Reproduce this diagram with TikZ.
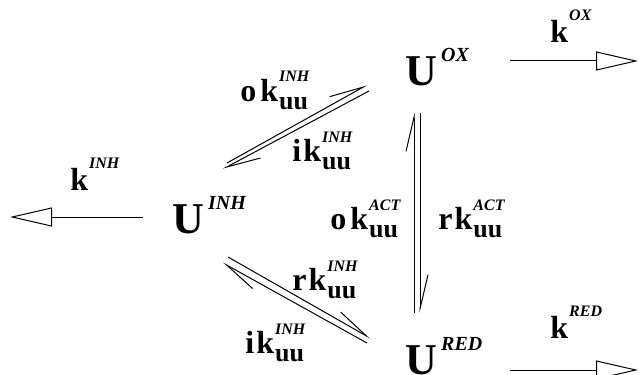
\documentclass[tikz,border=0pt]{standalone}
\usepackage{fontspec}
\setmainfont{Liberation Serif}
\usepackage{tikz}
\usetikzlibrary{arrows.meta}

\newcommand{\sps}[1]{{\fontsize{8}{8}\selectfont\bfseries\itshape #1}}
\newcommand{\kx}[1]{\textbf{k}\kern0.5pt\raisebox{11pt}{\sps{#1}}}
\newcommand{\kuu}[1]{\textbf{k}\kern0.5pt\rlap{\raisebox{9.5pt}{\sps{#1}}}\raisebox{-4pt}{\fontsize{13}{13}\selectfont\bfseries uu}}
\newcommand{\spc}[1]{\textbf{U}\kern2pt\raisebox{12pt}{\fontsize{10}{10}\selectfont\bfseries\itshape #1}}

\begin{document}
\begin{tikzpicture}[
    x=0.5pt, y=-0.5pt,
    species/.style={anchor=base west, inner sep=0pt, font=\fontsize{22}{22}\selectfont\bfseries},
    rate/.style={anchor=base west, inner sep=0pt, font=\fontsize{16}{16}\selectfont\bfseries},
    flow/.style={-{Triangle[open,length=21pt,width=9.5pt]}, line width=0.5pt},
    harp/.style={-{Straight Barb[harpoon,length=17pt,width=8pt]}, line width=0.5pt}
]
\useasboundingbox (0,0) rectangle (640,374);

\node[species] (inh) at (172,233) {\spc{INH}};
\node[species] (ox) at (405,85) {\spc{OX}};
\node[species] (red) at (405,374) {\spc{RED}};

\node[rate] (okI) at (240,101) {o\kern2pt\kuu{INH}};
\node[rate] (ikI) at (292,161) {i\kern1pt\kuu{INH}};
\node[rate] (okA) at (330,229) {o\kern2pt\kuu{ACT}};
\node[rate] (rkA) at (438,229) {r\kern1pt\kuu{ACT}};
\node[rate] (rkI) at (292,290) {r\kern1pt\kuu{INH}};
\node[rate] (ikR) at (245,353) {i\kern1pt\kuu{INH}};
\node[rate] (kI) at (70,190) {\kx{INH}};
\node[rate] (kO) at (550,43) {\kx{OX}};
\node[rate] (kR) at (550,338) {\kx{RED}};

\coordinate (sinkI) at (10,217);
\coordinate (sinkO) at (638,61);
\coordinate (sinkR) at (638,370);

\draw[flow] ([shift={(-29,-16)}]inh.base west) -- (sinkI);
\draw[flow] ([shift={(105,-24)}]ox.base west) -- (sinkO);
\draw[flow] ([shift={(105,-4)}]red.base west) -- (sinkR);

\draw[harp] ([shift={(9,-61)}]red.base west) -- ([shift={(9,28)}]ox.base west);
\draw[harp] ([shift={(15,28)}]ox.base west) -- ([shift={(15,-61)}]red.base west);
\draw[harp] ([shift={(55,-70)}]inh.base west) -- ([shift={(-38,0)}]ox.base west);
\draw[harp] ([shift={(-36,6)}]ox.base west) -- ([shift={(51,-64)}]inh.base west);
\draw[harp] ([shift={(56,24)}]inh.base west) -- ([shift={(-35,-36)}]red.base west);
\draw[harp] ([shift={(-38,-31)}]red.base west) -- ([shift={(51,30)}]inh.base west);
\end{tikzpicture}
\end{document}
